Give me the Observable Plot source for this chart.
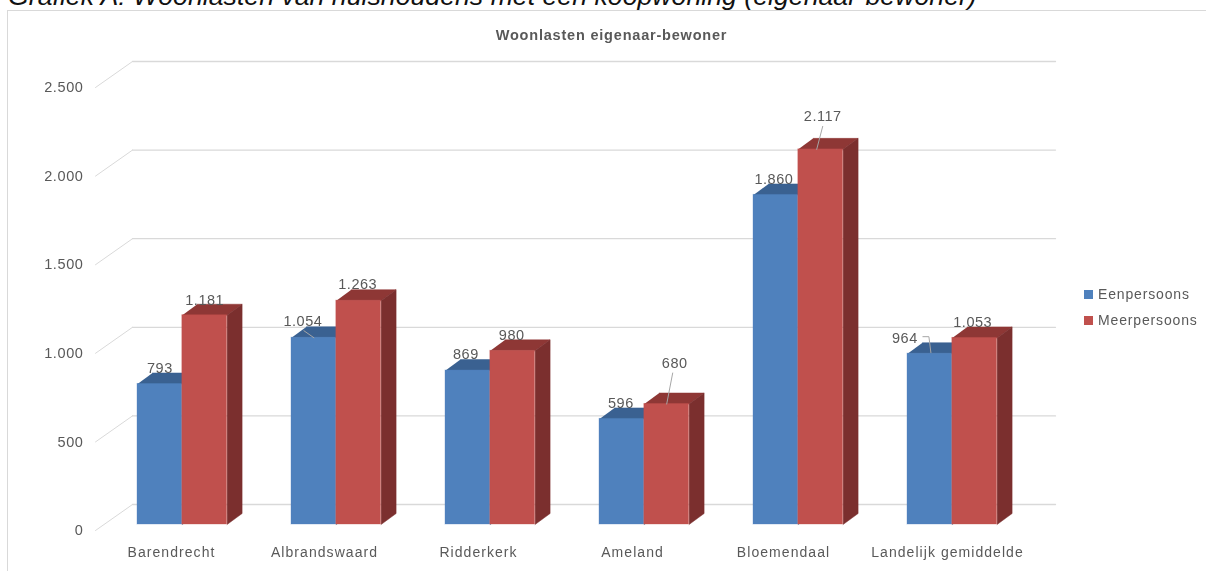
<!DOCTYPE html>
<html lang="nl">
<head>
<meta charset="utf-8">
<script src="https://cdn.jsdelivr.net/npm/d3@7"></script>
<script src="https://cdn.jsdelivr.net/npm/@observablehq/plot@0.6"></script>
<style>
  html, body { margin: 0; padding: 0; background: #fff; overflow: hidden; }
  #page { position: relative; width: 1206px; height: 571px; overflow: hidden; font-family: "Liberation Sans", Arial, sans-serif; }
  #frame { position: absolute; left: 7px; top: 10px; right: -3px; bottom: -3px; border: 1.5px solid #d9d9d9; box-sizing: border-box; }
  #heading { position: absolute; left: 8px; top: -16px; font-size: 26.7px; font-style: italic; color: #111; white-space: nowrap; line-height: 24px; }
  #chartTitle { position: absolute; left: 0; width: 1223px; top: 27px; text-align: center; font-size: 14.5px; font-weight: bold; letter-spacing: .8px; color: #595959; line-height: 16px; }
  #legend { position: absolute; left: 1084px; top: 285px; font-size: 14px; color: #595959; letter-spacing: .85px; }
  #legend div { height: 26px; line-height: 18px; white-space: nowrap; }
  #legend i { display: inline-block; width: 9px; height: 9px; margin-right: 5px; vertical-align: 0px; }
  svg { position: absolute; left: 0; top: 0; }
  svg, #legend, #chartTitle { filter: blur(0.35px); }
  svg g[aria-label="text"] text { letter-spacing: .5px; }
  svg g[aria-label="y-axis tick label"] text { letter-spacing: .6px; }
  svg g[aria-label="x-axis tick label"] text { letter-spacing: 1.05px; }
</style>
</head>
<body>
<div id="page">
  <div id="frame"></div>
  <div id="heading">Grafiek A: Woonlasten van huishoudens met een koopwoning (eigenaar-bewoner)</div>
  <div id="chartTitle">Woonlasten eigenaar-bewoner</div>
  <div id="legend"></div>
</div>
<script>
const places = ["Barendrecht", "Albrandswaard", "Ridderkerk", "Ameland", "Bloemendaal", "Landelijk gemiddelde"];
const seriesNames = ["Eenpersoons", "Meerpersoons"];
const eenpersoons = [793, 1054, 869, 596, 1860, 964];
const meerpersoons = [1181, 1263, 980, 680, 2117, 1053];
const yTicks = [0, 500, 1000, 1500, 2000, 2500];

// Label offsets and leader bends, in pixels relative to the top-centre of a bar
const labelShift = {
  "Eenpersoons": [[0, -16], [-11, -16], [-2, -16], [-1, -16], [-2, -16], [-25, -15]],
  "Meerpersoons": [[0, -15], [-1, -16], [-1, -15], [8, -41], [2, -33], [-2, -16]]
};
const placeLabelShift = [-1, -2, -2, -2, -5, 5];
const leaders = [
  {s: 0, i: 1, path: [[-10, -7], [0, 0]]},
  {s: 1, i: 3, path: [[6, -31], [0, 0]]},
  {s: 1, i: 4, path: [[2, -23], [-4, 0]]},
  {s: 0, i: 5, path: [[-7, -17], [-1, -17], [1, -1]]}
];

const fmt = v => d3.format(",")(v).replace(/,/g, ".");
const colors = [
  {front: "#4f81bd", top: "#3a6191", side: "#345a88"},
  {front: "#c0504d", top: "#8e3735", side: "#7b2f2e"}
];

// scale geometry
const W = 1206, H = 571, X0 = 95, X1 = 1019, Y0 = 530, Y1 = 87;
const xUnit = (X1 - X0) / places.length, yUnit = (Y0 - Y1) / 2500;
const px = d => d / xUnit, py = d => -d / yUnit;   // pixel offsets to data units

// bars sit inside the floor depth; wall is further back
const barDx = 10, barDy = -6, depthX = 15, depthY = -11, wallX = 37, wallY = -26;
const barW = 44.8, barStart = 32;   // px inside a group

const bars = [];
[eenpersoons, meerpersoons].forEach((vals, s) => vals.forEach((v, i) => {
  const x1 = i + px(barStart + s * barW + barDx);
  const x2 = x1 + px(barW);
  const y0 = py(barDy);
  bars.push({s, i, v, x1, x2, y0, y1: y0 + v, key: `${i}-${s}`, name: seriesNames[s]});
}));

const poly = (b, kind) => {
  const dX = px(depthX), dY = py(depthY);
  const pts = kind === "top"
    ? [[b.x1, b.y1], [b.x2, b.y1], [b.x2 + dX, b.y1 + dY], [b.x1 + dX, b.y1 + dY]]
    : [[b.x2, b.y0], [b.x2 + dX, b.y0 + dY], [b.x2 + dX, b.y1 + dY], [b.x2, b.y1]];
  return pts.map(([x, y]) => ({x, y, key: b.key}));
};

const gridLines = yTicks.flatMap(v => [
  {x: 0, y: v, v, part: "slant"},
  {x: px(wallX), y: v + py(wallY), v, part: "slant"},
  {x: px(wallX), y: v + py(wallY), v, part: "back"},
  {x: places.length + px(wallX - 1), y: v + py(wallY), v, part: "back"}
]);

const barMarks = s => {
  const sel = bars.filter(b => b.s === s);
  const c = colors[s];
  return [
    Plot.line(sel.flatMap(b => poly(b, "top")), {x: "x", y: "y", z: "key", fill: c.top, stroke: c.top, strokeWidth: 0.5}),
    Plot.line(sel.flatMap(b => poly(b, "side")), {x: "x", y: "y", z: "key", fill: c.side, stroke: c.side, strokeWidth: 0.5}),
    Plot.rect(sel, {x1: "x1", x2: "x2", y1: "y0", y2: "y1", fill: c.front, stroke: c.front, strokeOpacity: 0.35})
  ];
};

const anchor = (s, i) => bars.find(b => b.s === s && b.i === i);
const labels = bars.map(b => {
  const [dx, dy] = labelShift[b.name][b.i];
  return {x: (b.x1 + b.x2) / 2 + px(dx), y: b.y1 + py(dy), text: fmt(b.v)};
});
const leaderPts = leaders.flatMap((l, k) => {
  const b = anchor(l.s, l.i);
  return l.path.map(([dx, dy]) => ({x: (b.x1 + b.x2) / 2 + px(dx), y: b.y1 + py(dy), k}));
});

const chart = Plot.plot({
  width: W, height: H,
  marginLeft: X0, marginRight: W - X1, marginTop: Y1, marginBottom: H - Y0,
  style: {background: "transparent", fontFamily: "'Liberation Sans', Arial, sans-serif"},
  x: {type: "linear", domain: [0, places.length]},
  y: {type: "linear", domain: [0, 2500]},
  marks: [
    Plot.line(gridLines.filter(d => d.part === "back"), {x: "x", y: "y", z: "v", stroke: "#d9d9d9", strokeWidth: 1.3}),
    Plot.line(gridLines.filter(d => d.part === "slant"), {x: "x", y: "y", z: "v", stroke: "#d9d9d9", strokeWidth: 1}),
    ...barMarks(0),
    ...barMarks(1),
    Plot.line(leaderPts, {x: "x", y: "y", z: "k", stroke: "#a6a6a6", strokeWidth: 1}),
    Plot.text(labels, {x: "x", y: "y", text: "text", fontSize: 14.5, fill: "#595959"}),
    Plot.axisY({ticks: yTicks, tickFormat: fmt, tickSize: 0, tickPadding: 12, fontSize: 14.5, fill: "#595959", label: null}),
    Plot.axisX({ticks: places.map((_, i) => i + 0.5 + px(placeLabelShift[i])), tickFormat: d => places[Math.floor(d)], tickSize: 0, tickPadding: 17, fontSize: 14, fill: "#595959", label: null})
  ]
});
document.getElementById("page").appendChild(chart);

const legend = document.getElementById("legend");
seriesNames.forEach((n, s) => {
  const row = document.createElement("div");
  const sw = document.createElement("i");
  sw.style.background = colors[s].front;
  row.appendChild(sw);
  row.appendChild(document.createTextNode(n));
  legend.appendChild(row);
});
</script>
</body>
</html>
